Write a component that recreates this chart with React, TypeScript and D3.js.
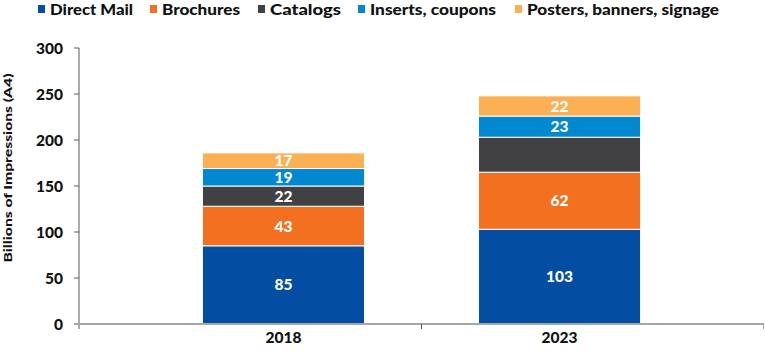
import React from "react";
import * as d3 from "d3";

const years = ["2018", "2023"];
const seriesNames = ["Direct Mail", "Brochures", "Catalogs", "Inserts, coupons", "Posters, banners, signage"];
const directMail = [85, 103];
const brochures = [43, 62];
const catalogs = [22, 38];
const inserts = [19, 23];
const posters = [17, 22];
// which labels are shown (2023 catalogs unlabeled in the original)
const showLabel = [
  [true, true],
  [true, true],
  [true, false],
  [true, true],
  [true, true],
];
const yTicks = [0, 50, 100, 150, 200, 250, 300];
const colors = ["#034EA2", "#F37021", "#414042", "#0288D1", "#FBB054"];

const W = 765;
const H = 357;
const left = 79;
const right = 764;
const top = 48;
const bottom = 324;
const FONT = "'Lato', 'DejaVu Sans', sans-serif";

export default function App() {
  const values = [directMail, brochures, catalogs, inserts, posters];
  const y = d3.scaleLinear().domain([0, 300]).range([bottom, top]);
  const x = d3
    .scaleBand<string>()
    .domain(years)
    .range([left, right])
    .paddingInner(0.413)
    .paddingOuter(0.447);

  const table = years.map((yr, i) => {
    const row: any = { year: yr };
    seriesNames.forEach((s, k) => (row[s] = values[k][i]));
    return row;
  });
  const stacked = d3.stack<any>().keys(seriesNames)(table);

  const legendX = [38, 150, 258, 358, 515];
  const legendW = [83, 78, 71, 126, 192];

  const midTick = ((x(years[0])! + x(years[1])!) / 2 + x.bandwidth() / 2);

  return (
    <div style={{ position: "fixed", left: 0, top: 0 }}>
      <svg width={W} height={H} style={{ display: "block", background: "#fff" }}>
        {/* legend */}
        {seriesNames.map((s, k) => (
          <g key={s}>
            <rect x={legendX[k]} y={5} width={7} height={8} fill={colors[k]} />
            <text
              x={legendX[k] + 12}
              y={15}
              fontFamily={FONT}
              fontWeight={900}
              fontSize={15}
              fill="#111"
              textLength={legendW[k]}
              lengthAdjust="spacingAndGlyphs"
            >
              {s}
            </text>
          </g>
        ))}

        {/* bars */}
        {stacked.map((layer, k) => (
          <g key={layer.key}>
            {layer.map((d, i) => {
              const x0 = x(years[i])!;
              const y0 = y(d[1]);
              const h = y(d[0]) - y(d[1]);
              return (
                <g key={i}>
                  <rect
                    x={x0}
                    y={y0}
                    width={x.bandwidth()}
                    height={h}
                    fill={colors[k]}
                    stroke="#fff"
                    strokeWidth={1}
                  />
                  {showLabel[k][i] && (
                    <text
                      x={x0 + x.bandwidth() / 2}
                      y={y0 + h / 2}
                      dy="0.36em"
                      textAnchor="middle"
                      fontFamily={FONT}
                      fontWeight={900}
                      fontSize={15.5}
                      fill="#fff"
                    >
                      {values[k][i]}
                    </text>
                  )}
                </g>
              );
            })}
          </g>
        ))}

        {/* y axis */}
        <line x1={left} x2={left} y1={top} y2={bottom + 5} stroke="#595959" strokeWidth={1} />
        {yTicks.map((t) => (
          <g key={t}>
            <line x1={left - 5} x2={left} y1={y(t)} y2={y(t)} stroke="#595959" strokeWidth={1} />
            <text
              x={63}
              y={y(t)}
              dy="0.36em"
              textAnchor="end"
              fontFamily={FONT}
              fontWeight={900}
              fontSize={15.5}
              fill="#111"
            >
              {t}
            </text>
          </g>
        ))}
        <text
          transform={`translate(12,${168}) rotate(-90)`}
          textAnchor="middle"
          fontFamily={FONT}
          fontWeight={900}
          fontSize={12}
          fill="#111"
          textLength={189}
          lengthAdjust="spacingAndGlyphs"
        >
          Billions of Impressions (A4)
        </text>

        {/* x axis */}
        <line x1={left - 5} x2={right} y1={bottom} y2={bottom} stroke="#A6A6A6" strokeWidth={2} />
        <line x1={midTick} x2={midTick} y1={bottom} y2={bottom + 5} stroke="#595959" strokeWidth={1} />
        <line x1={right - 0.5} x2={right - 0.5} y1={bottom} y2={bottom + 5} stroke="#A6A6A6" strokeWidth={1} />
        {years.map((yr) => (
          <text
            key={yr}
            x={x(yr)! + x.bandwidth() / 2}
            y={343}
            textAnchor="middle"
            fontFamily={FONT}
            fontWeight={900}
            fontSize={15.5}
            fill="#111"
          >
            {yr}
          </text>
        ))}
      </svg>
    </div>
  );
}
